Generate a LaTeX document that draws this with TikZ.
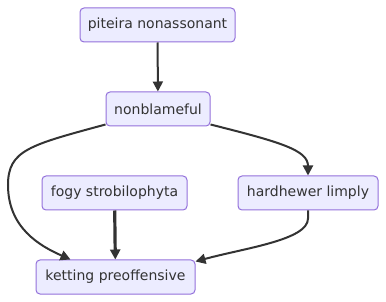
\documentclass[tikz,border=0pt]{standalone}
\usepackage{fontspec}
\setmainfont{DejaVu Sans}
\usetikzlibrary{arrows.meta}
\definecolor{boxfill}{HTML}{ECECFF}
\definecolor{boxline}{HTML}{9370DB}
\definecolor{ink}{HTML}{333333}
\tikzset{
  box/.style={draw=boxline, fill=boxfill, line width=1pt, rounded corners=4pt,
    text=ink, font=\fontsize{14}{16}\selectfont, inner sep=0pt, minimum height=34pt, anchor=center},
  link/.style={draw=ink, line width=2pt, -{Triangle[length=10pt,width=10pt]}},
  thicklink/.style={draw=ink, line width=3.2pt, -{Triangle[length=10pt,width=10pt]}}
}
\begin{document}
\begin{tikzpicture}[x=1pt,y=-1pt]
  \useasboundingbox (0,0) rectangle (386,302);
  \node[box, minimum width=155pt] (pit) at (157.5,25) {piteira nonassonant};
  \node[box, minimum width=104pt] (non) at (158,109) {nonblameful};
  \node[box, minimum width=145pt] (fog) at (114.5,193) {fogy strobilophyta};
  \node[box, minimum width=140pt] (har) at (308,193) {hardhewer limply};
  \node[box, minimum width=159pt] (ket) at (115.5,277) {ketting preoffensive};

  \draw[link] (pit) -- (non);
  \draw[link] (non.south west) ++(0,-2) coordinate (n1)
    .. controls (30,145) and (8,150) .. (8,185)
    .. controls (8,228) and (40,246) .. ([xshift=-45pt]ket.north);
  \draw[link] (non.south east) ++(0,-2)
    .. controls (280,142) and (308,150) .. (har.north);
  \draw[thicklink] (fog) -- (ket);
  \draw[link] (har.south) -- ++(0,8)
    .. controls (308,240) and (245,248) .. ([yshift=-2pt]ket.north east);
\end{tikzpicture}
\end{document}
